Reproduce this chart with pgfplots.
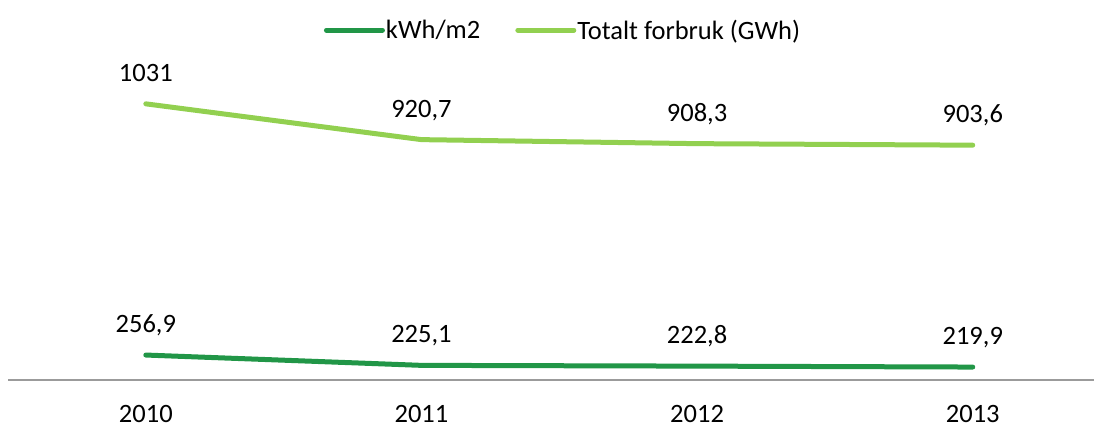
\documentclass[border=0pt]{standalone}
\usepackage{pgfplots}
\usepackage{pgfplotstable}
\pgfplotsset{compat=1.18}
\usepackage{fontspec}
\setmainfont{Carlito}
\definecolor{dkgreen}{RGB}{33,150,71}
\definecolor{ltgreen}{RGB}{146,208,80}
\definecolor{axgray}{RGB}{155,155,155}

\pgfplotstableread{
x y lab
0 256.9 256,9
1 225.1 225,1
2 222.8 222,8
3 219.9 219,9
}\kwh
\pgfplotstableread{
x y lab
0 1031 1031
1 920.7 920,7
2 908.3 908,3
3 903.6 903,6
}\total

\begin{document}
\begin{tikzpicture}[font=\fontsize{26.5bp}{31bp}\selectfont]
\useasboundingbox (0,0) rectangle (1094bp,426bp);
\begin{axis}[
 at={(8bp,46bp)}, anchor=south west,
 scale only axis, width=1086bp, height=331bp,
 xmin=-0.5, xmax=3.44, ymin=180, ymax=1200,
 axis x line=bottom, axis y line=none,
 x axis line style={-, draw=axgray, line width=2bp},
 xtick={0,1,2,3}, xticklabels={2010,2011,2012,2013},
 major tick length=0pt,
 /pgf/number format/assume math mode=true,
 xticklabel style={anchor=base, inner sep=0pt, yshift=-42bp, text=black},
 clip=false,
 nodes near coords, point meta=explicit symbolic,
 nodes near coords style={anchor=base, inner sep=0pt, yshift=22.5bp, text=black},
 legend columns=2,
 legend style={at={(0.5106,1.057)}, anchor=center, draw=none, fill=none,
   nodes={inner xsep=1bp, inner ysep=0pt, text=black},
   /tikz/every even column/.append style={column sep=34bp}},
 legend image code/.code={\draw[#1, line cap=round] (0bp,0bp) -- (56bp,0bp);},
]
\addplot[dkgreen, line width=5bp, line join=round, line cap=round] table[x=x, y=y, meta=lab] {\kwh};
\addlegendentry{kWh/m2}
\addplot[ltgreen, line width=5bp, line join=round, line cap=round] table[x=x, y=y, meta=lab] {\total};
\addlegendentry{Totalt forbruk (GWh)}
\end{axis}
\end{tikzpicture}
\end{document}
